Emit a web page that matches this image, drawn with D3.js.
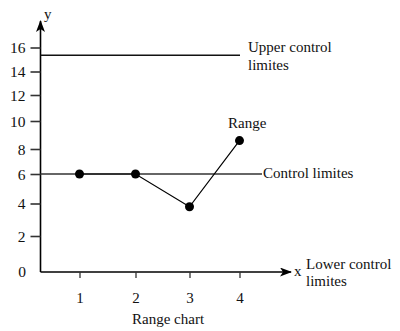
<!DOCTYPE html>
<html><head><meta charset="utf-8">
<script src="https://cdn.jsdelivr.net/npm/d3@7"></script>
<style>body{margin:0;background:#fff}svg{display:block}text{font-family:"Liberation Serif","Times New Roman",serif;fill:#111}</style>
</head><body>
<script>
const xTicks = [1, 2, 3, 4];
const yTicks = [0, 2, 4, 6, 8, 10, 12, 14, 16];
const rangeValues = [6, 6, 3.8, 8.6];
const upperLimit = 15.35;
const controlLimit = 6;
const labels = {upper: ["Upper control", "limites"], control: "Control limites", lower: ["Lower control", "limites"], range: "Range", title: "Range chart"};

const W = 400, H = 331;
const svg = d3.select("body").append("svg").attr("width", W).attr("height", H);

// hand-drawn (uneven) vertical scale, piecewise linear
const y = d3.scaleLinear().domain(yTicks).range([272, 236, 203.5, 174, 149, 121, 95, 71.5, 47.5]);
const x = d3.scaleLinear().domain([0, 1, 2, 3, 4]).range([40.5, 79.5, 135.5, 189.5, 239.5]);

const defs = svg.append("defs");
defs.append("marker").attr("id", "arr").attr("viewBox", "0 0 12 9").attr("refX", 11).attr("refY", 4.5)
  .attr("markerWidth", 12).attr("markerHeight", 9).attr("markerUnits", "userSpaceOnUse").attr("orient", "auto")
  .append("path").attr("d", "M0,0 L12,4.5 L0,9 L3,4.5 Z").attr("fill", "#000");

const x0 = x(0), y0 = y(0);
// axes lines with arrows
svg.append("line").attr("x1", x0).attr("y1", y0).attr("x2", x0).attr("y2", 21)
  .attr("stroke", "#000").attr("stroke-width", 1.6).attr("marker-end", "url(#arr)");
svg.append("line").attr("x1", x0).attr("y1", y0).attr("x2", 291).attr("y2", y0)
  .attr("stroke", "#000").attr("stroke-width", 1.6).attr("marker-end", "url(#arr)");

// y ticks
const yAxis = d3.axisLeft(y).tickValues(yTicks.slice(1)).tickSize(10).tickPadding(4).tickFormat(d3.format("d"));
const gy = svg.append("g").attr("transform", `translate(${x0},0)`).call(yAxis);
gy.select(".domain").remove();
gy.selectAll(".tick line").attr("stroke", "#333").attr("stroke-width", 1.6);
gy.selectAll(".tick text").attr("font-size", 15.5).attr("fill", "#111").attr("x", -15).attr("dy", "0.35em");
svg.append("text").attr("x", 26).attr("y", y0 + 5).attr("text-anchor", "end").attr("font-size", 15.5).text("0");

// x ticks
const xAxis = d3.axisBottom(x).tickValues(xTicks).tickSize(6).tickPadding(14).tickFormat(d3.format("d"));
const gx = svg.append("g").attr("transform", `translate(0,${y0})`).call(xAxis);
gx.select(".domain").remove();
gx.selectAll(".tick line").attr("stroke", "#333").attr("stroke-width", 1.3);
gx.selectAll(".tick text").attr("font-size", 15).attr("fill", "#111");

// axis letters
svg.append("text").attr("x", 44).attr("y", 19).attr("font-size", 15).text("y");
svg.append("text").attr("x", 294).attr("y", 276).attr("font-size", 15).text("x");

// upper control limit line
svg.append("line").attr("x1", x0).attr("x2", 240).attr("y1", y(upperLimit)).attr("y2", y(upperLimit))
  .attr("stroke", "#111").attr("stroke-width", 1.4);
svg.append("text").attr("x", 248).attr("y", 52).attr("font-size", 15).text(labels.upper[0]);
svg.append("text").attr("x", 248).attr("y", 70).attr("font-size", 15).text(labels.upper[1]);

// control limit line
svg.append("line").attr("x1", x0).attr("x2", 262).attr("y1", y(controlLimit)).attr("y2", y(controlLimit))
  .attr("stroke", "#333").attr("stroke-width", 1.4);
svg.append("text").attr("x", 263).attr("y", 178).attr("font-size", 15).text(labels.control);

// lower control label
svg.append("text").attr("x", 306).attr("y", 269).attr("font-size", 15).text(labels.lower[0]);
svg.append("text").attr("x", 306).attr("y", 286).attr("font-size", 15).text(labels.lower[1]);

// range series
const line = d3.line().x((d, i) => x(xTicks[i])).y(d => y(d));
svg.append("path").datum(rangeValues).attr("d", line).attr("fill", "none").attr("stroke", "#000").attr("stroke-width", 1.2);
svg.selectAll("circle.pt").data(rangeValues).join("circle").attr("class", "pt")
  .attr("cx", (d, i) => x(xTicks[i])).attr("cy", d => y(d)).attr("r", 4.5).attr("fill", "#000");
svg.append("text").attr("x", 228).attr("y", 128).attr("font-size", 15).text(labels.range);

// caption
svg.append("text").attr("x", 132).attr("y", 324).attr("font-size", 15).text(labels.title);
</script>
</body></html>
